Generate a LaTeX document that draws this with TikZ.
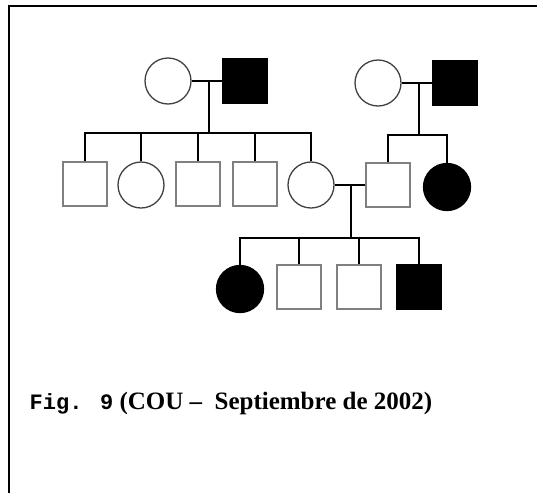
\documentclass[tikz,border=0pt]{standalone}
\usepackage{fontspec}
\setmainfont{Liberation Serif}
\newfontfamily\figmono{Liberation Mono}
\usetikzlibrary{positioning}
\newcommand{\symsize}{44pt}
\newcommand{\lw}{1.3pt}

\begin{document}
\begin{tikzpicture}[x=1pt,y=-1pt,line width=\lw]
\useasboundingbox (0,0) rectangle (537,493);
\draw (537,6) -- (9,6) -- (9,493);

        % generation I
        \node (gm1) at (168,81) [draw=black!75, circle, minimum size=46pt, inner sep=0pt] {};
        \node (gf1) at (245,81) [draw, fill, minimum size=\symsize, inner sep=0pt] {};
        \node (gm2) at (378,83) [draw=black!75, circle, minimum size=46pt, inner sep=0pt] {};
        \node (gf2) at (455,83) [draw, fill, minimum size=\symsize, inner sep=0pt] {};

        % generation II
        \node (c1) at (85,184)  [draw=black!50, minimum size=\symsize, inner sep=0pt] {};
        \node (c2) at (141,185) [draw=black!75, circle, minimum size=46pt, inner sep=0pt] {};
        \node (c3) at (198,184) [draw=black!50, minimum size=\symsize, inner sep=0pt] {};
        \node (c4) at (255,184) [draw=black!50, minimum size=\symsize, inner sep=0pt] {};
        \node (c5) at (311,185) [draw=black!75, circle, minimum size=46pt, inner sep=0pt] {};
        \node (c6) at (388,185) [draw=black!50, minimum size=\symsize, inner sep=0pt] {};
        \node (c7) at (447,187) [draw, fill, circle, minimum size=47pt, inner sep=0pt] {};

        % generation III
        \node (d1) at (240,289) [draw, fill, circle, minimum size=47pt, inner sep=0pt] {};
        \node (d2) at (299,287) [draw=black!50, minimum size=\symsize, inner sep=0pt] {};
        \node (d3) at (359,287) [draw=black!50, minimum size=\symsize, inner sep=0pt] {};
        \node (d4) at (419,287) [draw, fill, minimum size=\symsize, inner sep=0pt] {};

        \coordinate (m1) at (209,81);
        \coordinate (s1) at (209,133);
        \coordinate (m2) at (419,83);
        \coordinate (s2) at (419,135);
        \coordinate (m3) at (351,185);
        \coordinate (s3) at (351,238);

        \draw (gm1) -- (gf1)  (m1) -- (s1);
        \draw (gm2) -- (gf2)  (m2) -- (s2);
        \draw (c5) -- (c6)  (m3) -- (s3);
        \draw (c1) |- (s1) (c2) |- (s1) (c3) |- (s1) (c4) |- (s1) (c5) |- (s1);
        \draw (c6) |- (s2) (c7) |- (s2);
        \draw (d1) |- (s3) (d2) |- (s3) (d3) |- (s3) (d4) |- (s3);

        \node (caption) at (29,403) [anchor=west, inner sep=0pt, font=\bfseries\fontsize{25}{30}\selectfont]
          {{\figmono\fontsize{22}{26}\selectfont Fig. 9} (COU --\ \ Septiembre de 2002)};

\end{tikzpicture}
\end{document}
